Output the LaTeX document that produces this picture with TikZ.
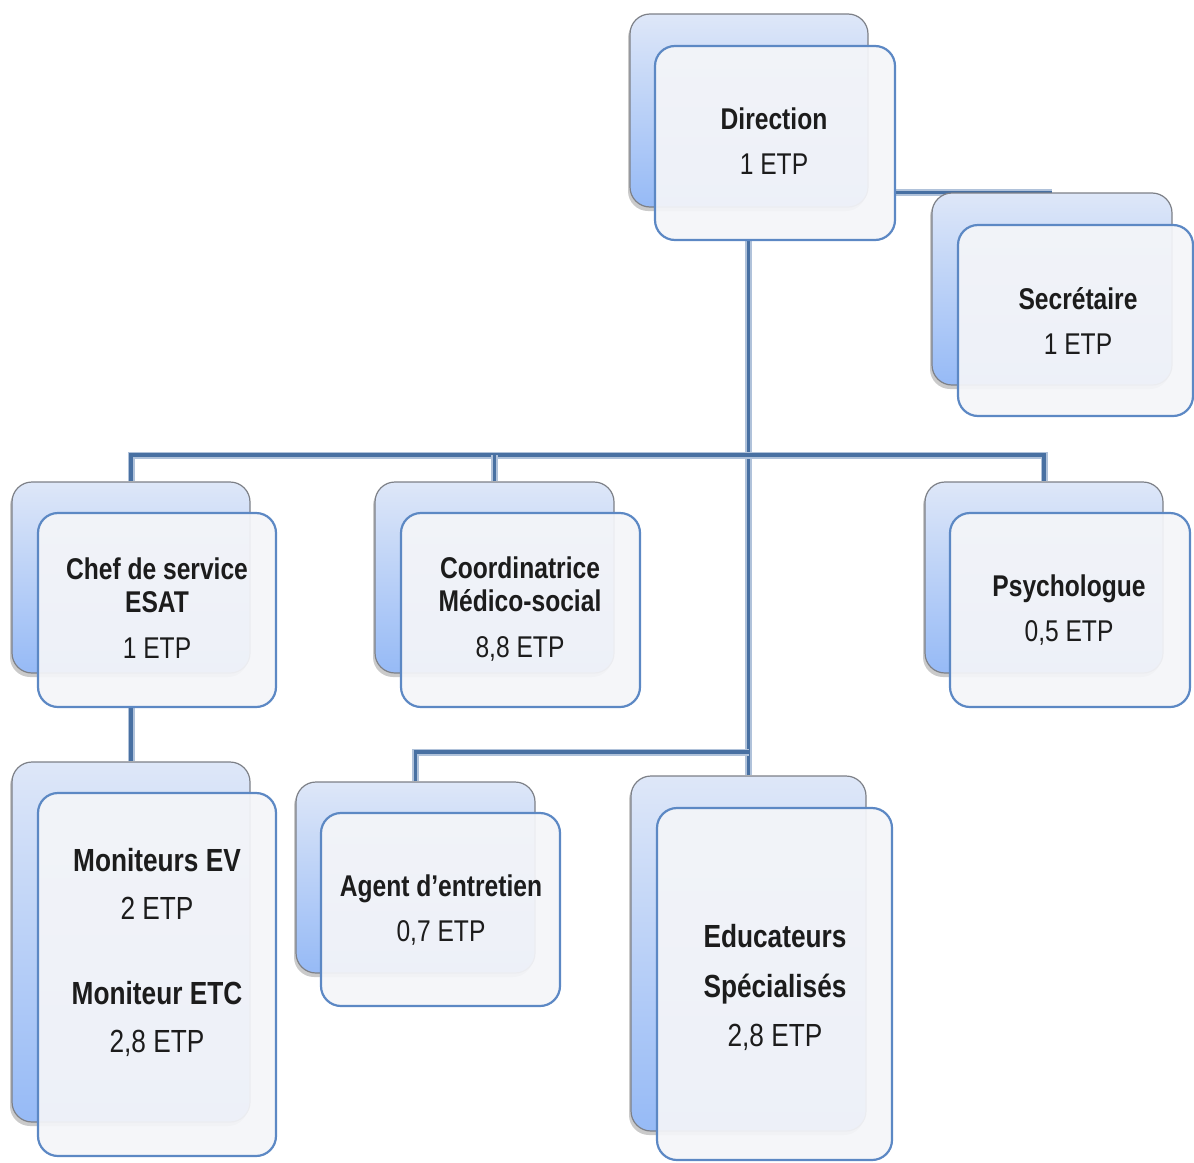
\documentclass[tikz,border=0pt]{standalone}
\usepackage{fontspec}
\setmainfont{Liberation Sans}[FakeStretch=0.82]
\usetikzlibrary{shadows}
\definecolor{backtop}{RGB}{222,231,248}
\definecolor{backbot}{RGB}{150,186,246}
\definecolor{backedge}{RGB}{125,128,135}
\definecolor{frontfill}{RGB}{244,245,249}
\definecolor{frontedge}{RGB}{92,136,196}
\definecolor{linkdark}{RGB}{72,112,162}
\definecolor{linklight}{RGB}{176,194,218}
\definecolor{txt}{RGB}{28,28,28}
\pgfdeclarelayer{bg}
\pgfsetlayers{bg,main}
\tikzset{
  backbox/.style={draw=backedge, line width=1.2pt, rounded corners=20pt, top color=backtop, bottom color=backbot,
    drop shadow={shadow xshift=-2pt, shadow yshift=-4pt, opacity=0.35, fill=black!60}, inner sep=0pt},
  frontbox/.style={draw=frontedge, line width=2.2pt, rounded corners=20pt, fill=frontfill, fill opacity=0.93, inner sep=0pt},
  label30/.style={align=center, text=txt, font=\fontsize{30}{33}\selectfont, inner sep=0pt},
  label32/.style={align=center, text=txt, font=\fontsize{32}{37}\selectfont, inner sep=0pt},
  link/.style={line width=3.6pt, draw=linkdark, preaction={draw=linklight, line width=7pt}}
}
\begin{document}
\begin{tikzpicture}[x=1pt,y=-1pt]
\useasboundingbox (0,0) rectangle (1194,1162);
% Direction
\node[backbox, minimum width=238pt, minimum height=193pt] (dirB) at (749,110.5) {};
\node[frontbox, minimum width=240pt, minimum height=194pt] (dirF) at (775,143) {};
\node[label30] (dirT) at (774,141) {\textbf{Direction}\\[12pt]1 ETP};
% Secretaire
\node[backbox, minimum width=240pt, minimum height=192pt] (secB) at (1052,289) {};
\node[frontbox, minimum width=235pt, minimum height=191pt] (secF) at (1075.5,320.5) {};
\node[label30] (secT) at (1078,321) {\textbf{Secrétaire}\\[12pt]1 ETP};
% Chef de service
\node[backbox, minimum width=238pt, minimum height=191pt] (chefB) at (131,577.5) {};
\node[frontbox, minimum width=238pt, minimum height=194pt] (chefF) at (157,610) {};
\node[label30] (chefT) at (157,608) {\textbf{Chef de service}\\\textbf{ESAT}\\[13pt]1 ETP};
% Coordinatrice
\node[backbox, minimum width=239pt, minimum height=191pt] (coordB) at (494.5,577.5) {};
\node[frontbox, minimum width=239pt, minimum height=194pt] (coordF) at (520.5,610) {};
\node[label30] (coordT) at (520,609) {\textbf{Coordinatrice}\\\textbf{Médico-social}\\[13pt]8,8 ETP};
% Psychologue
\node[backbox, minimum width=238pt, minimum height=191pt] (psyB) at (1044,577.5) {};
\node[frontbox, minimum width=240pt, minimum height=194pt] (psyF) at (1070,610) {};
\node[label30] (psyT) at (1069,610) {\textbf{Psychologue}\\[12pt]0,5 ETP};
% Moniteurs
\node[backbox, minimum width=238pt, minimum height=360pt] (monB) at (131,942) {};
\node[frontbox, minimum width=238pt, minimum height=363pt] (monF) at (157,974.5) {};
\node[label32] (monT) at (157,952) {\textbf{Moniteurs EV}\\[11pt]2 ETP\\[48pt]\textbf{Moniteur ETC}\\[11pt]2,8 ETP};
% Agent
\node[backbox, minimum width=239pt, minimum height=191pt] (agB) at (415.5,877.5) {};
\node[frontbox, minimum width=239pt, minimum height=193pt] (agF) at (440.5,909.5) {};
\node[label30] (agT) at (441,910) {\textbf{Agent d’entretien}\\[12pt]0,7 ETP};
% Educateurs
\node[backbox, minimum width=235pt, minimum height=355pt] (eduB) at (748.5,953.5) {};
\node[frontbox, minimum width=235pt, minimum height=352pt] (eduF) at (774.5,984) {};
\node[label32] (eduT) at (775,987) {\textbf{Educateurs}\\[13pt]\textbf{Spécialisés}\\[12pt]2,8 ETP};
% connectors
\coordinate (bus) at (0,455);
\coordinate (agbus) at (0,752);
\begin{pgfonlayer}{bg}
\draw[link] (eduB.north) -- (eduB.north |- dirF.south);
\draw[link] (chefB.north) -- (chefB.north |- bus) -- (psyB.north |- bus) -- (psyB.north);
\draw[link] (coordB.north) -- (coordB.north |- bus);
\draw[link] (monB.north) -- (monB.north |- chefF.south);
\draw[link] (agB.north) -- (agB.north |- agbus) -- (eduB.north |- agbus);
\draw[link] (secB.north) -- (secB.north -| dirF.east);
\end{pgfonlayer}
\end{tikzpicture}
\end{document}
